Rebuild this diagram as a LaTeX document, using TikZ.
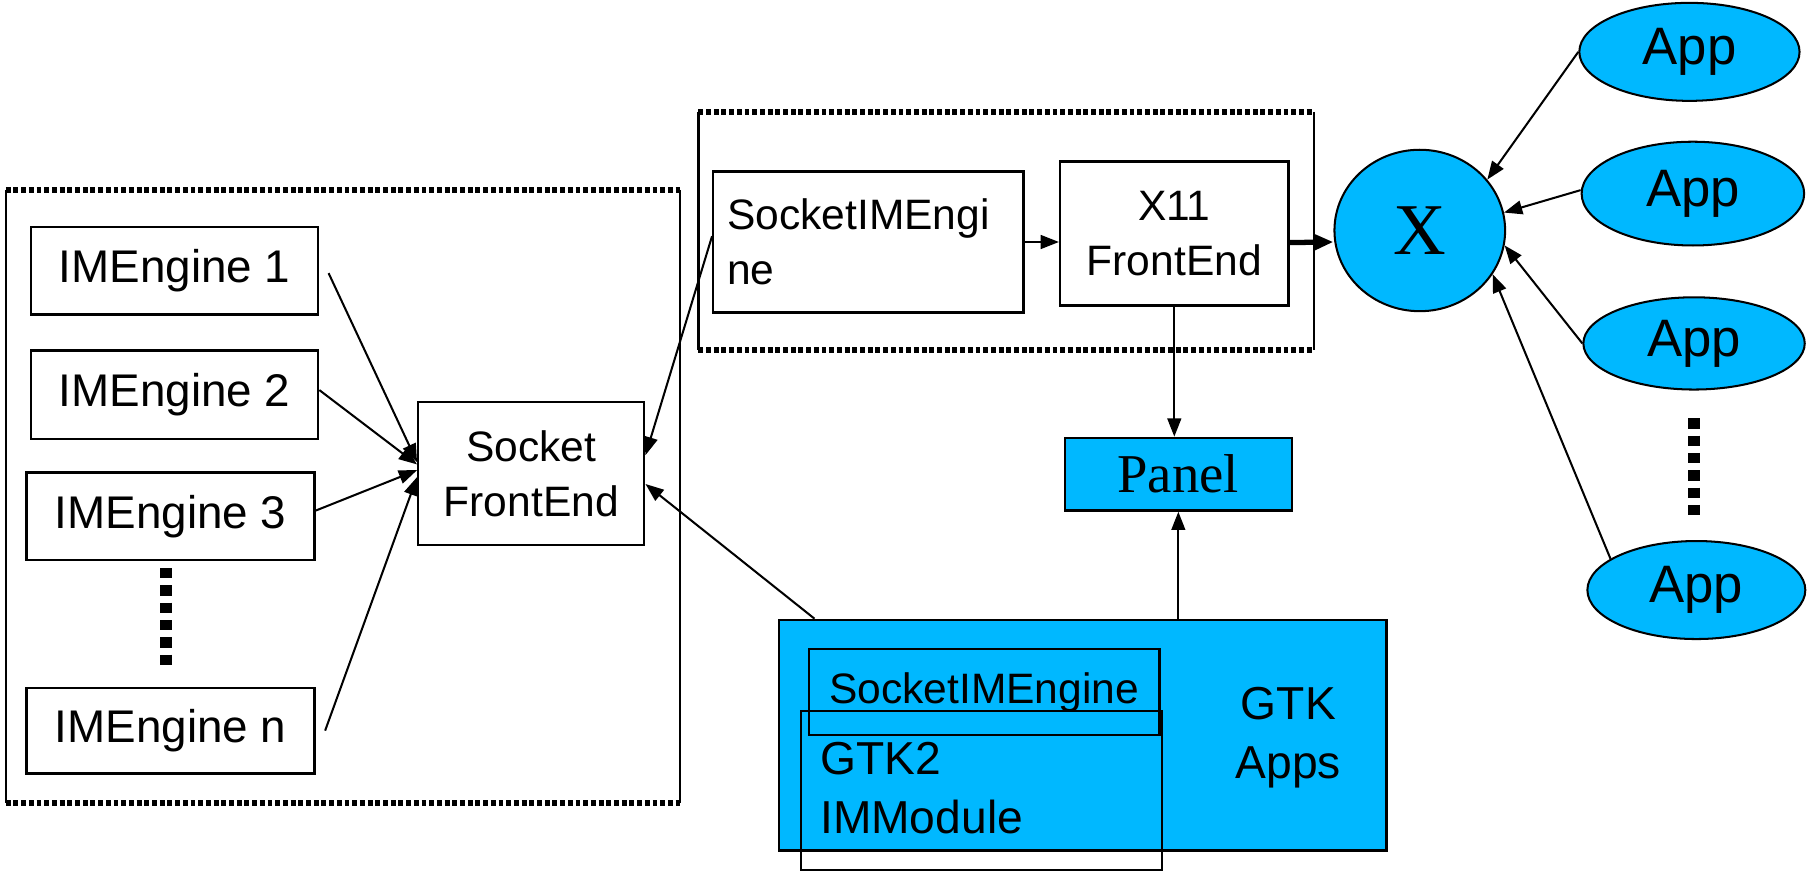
\documentclass[tikz,border=0pt]{standalone}
\usepackage{fontspec}
\setmainfont{Liberation Sans}
\newfontfamily\serifx{Liberation Serif}
\usetikzlibrary{arrows.meta,calc,shapes.geometric}
\definecolor{skyb}{RGB}{0,184,255}
\begin{document}
\begin{tikzpicture}[x=0.01cm,y=-0.01cm,
  box/.style={draw,line width=0.6pt,inner sep=0pt,align=center},
  big/.style={font=\fontsize{11.3}{14}\selectfont},
  med/.style={font=\fontsize{10.5}{13.6}\selectfont},
  arr/.style={-{Triangle[length=4.5pt,width=3.4pt]},line width=0.5pt},
  thickarr/.style={-{Triangle[length=5pt,width=4pt]},line width=1.3pt},
  app/.style={ellipse,draw,fill=skyb,line width=0.5pt,inner sep=0pt,font=\fontsize{13}{15}\selectfont},
  framedots/.style={line width=1.4pt,dash pattern=on 1.2pt off 0.7pt},
  frameside/.style={line width=0.6pt},
  vdots/.style={line width=2.8pt,dash pattern=on 2.55pt off 1.72pt}
]
\useasboundingbox (0,0) rectangle (1568,755);

% ---------- left frame ----------
\draw[frameside] (5,165) -- (5,697) (590,165) -- (590,697);
\draw[framedots] (5,165) -- (590,165) (5,697) -- (590,697);

% ---------- top frame ----------
\draw[frameside] (606,97) -- (606,304) (1140,97) -- (1140,304);
\draw[framedots] (606,97) -- (1140,97) (606,304) -- (1140,304);

% ---------- IMEngines ----------
\node[box,big,minimum width=2.49cm,minimum height=0.76cm] (ime1) at (151.5,235) {IMEngine 1};
\node[box,big,minimum width=2.49cm,minimum height=0.77cm] (ime2) at (151.5,342.5) {IMEngine 2};
\node[box,big,minimum width=2.50cm,minimum height=0.76cm] (ime3) at (148,448) {IMEngine 3};
\node[box,big,minimum width=2.50cm,minimum height=0.74cm] (imen) at (148,634) {IMEngine n};
\draw[vdots] (144,493) -- (144,577);

\node[box,med,minimum width=1.96cm,minimum height=1.24cm] (sfe) at (461,411) {Socket\\FrontEnd};

% ---------- top modules ----------
\node[box,med,minimum width=2.69cm,minimum height=1.22cm,text width=2.45cm,align=left] (sie) at (753.5,210) {SocketIMEngi\\ne};
\node[box,med,minimum width=1.98cm,minimum height=1.25cm] (x11) at (1019,202.5) {X11\\FrontEnd};

\node[ellipse,draw,fill=skyb,line width=0.5pt,inner sep=0pt,minimum width=1.48cm,minimum height=1.40cm,font=\serifx\fontsize{18}{18}\selectfont] (X) at (1232,200) {X};

\node[box,fill=skyb,minimum width=1.97cm,minimum height=0.63cm,font=\serifx\fontsize{13.5}{15}\selectfont] (panel) at (1022.5,411.5) {Panel};

% ---------- GTK block ----------
\node[box,fill=skyb,minimum width=5.27cm,minimum height=2.00cm] (gtk) at (939.5,638) {};
\node[align=center,font=\fontsize{11.4}{14.6}\selectfont,inner sep=0pt] (gtkt) at (1118,640) {GTK\\Apps};
\node[box,med,minimum width=3.04cm,minimum height=0.75cm] (gsie) at (854,600.5) {SocketIMEngine};
\node[box,minimum width=3.13cm,minimum height=1.38cm] (gim) at (851.5,686) {};
\node[anchor=west,align=left,font=\fontsize{11.4}{14.6}\selectfont,inner sep=0pt] (gimt) at (711,684) {GTK2\\IMModule};

% ---------- Apps ----------
\node[app,minimum width=1.91cm,minimum height=0.85cm] (app1) at (1466,45) {App};
\node[app,minimum width=1.93cm,minimum height=0.90cm] (app2) at (1469,168) {App};
\node[app,minimum width=1.92cm,minimum height=0.80cm] (app3) at (1470,298) {App};
\node[app,minimum width=1.89cm,minimum height=0.85cm] (app4) at (1472,512) {App};
\draw[vdots] (1470,363) -- (1470,447);

% ---------- connectors ----------
\draw[arr] ($(ime1.east)+(8,2)$) -- ($(sfe.west)+(0,-10)$);
\draw[arr] ($(ime2.east)+(0,-4)$) -- ($(sfe.west)+(0,-8)$);
\draw[arr] ($(ime3.east)+(0,-5)$) -- ($(sfe.west)+(0,-3)$);
\draw[arr] ($(imen.east)+(8,0)$) -- ($(sfe.west)+(0,3)$);

\draw[arr] ($(sie.west)+(0,-5)$) -- ($(sfe.east)+(0,-16)$);
\draw[arr] ($(gtk.north west)+(32,0)$) -- ($(sfe.east)+(0,9)$);

\draw[arr] (sie.east) -- (sie.east -| x11.west);
\draw[thickarr] ($(x11.east)+(0,8)$) -- ($(X.west)+(0,10)$);
\draw[arr] (x11.south) -- (x11.south |- panel.north);
\draw[arr] (panel.south |- gtk.north) -- (panel.south);

\draw[arr] (app1.west) -- (X.37);
\draw[arr] ($(app2.west)+(0,-3)$) -- (X.12);
\draw[arr] (app3.west) -- (X.-10);
\draw[arr] (app4.160) -- (X.-31);
\end{tikzpicture}
\end{document}
